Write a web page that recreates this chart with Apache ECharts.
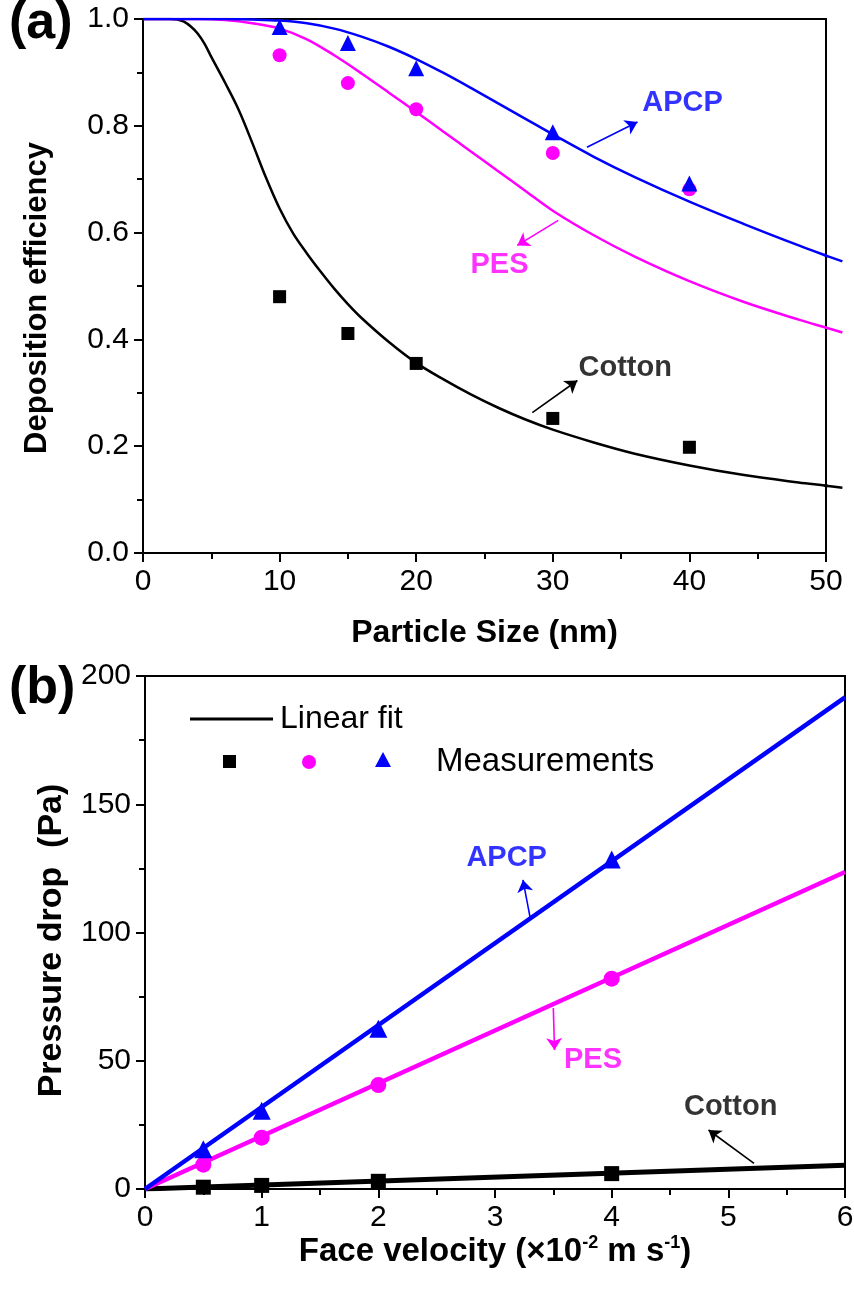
<!DOCTYPE html>
<html><head><meta charset="utf-8">
<script src="https://cdn.jsdelivr.net/npm/echarts@6/dist/echarts.min.js"></script>
<style>html,body{margin:0;padding:0;background:#fff}#c{width:854px;height:1291px}</style>
</head><body><div id="c"></div>
<script>
// ---------- Panel (a): deposition efficiency vs particle size ----------
const sizeNm = [10, 15, 20, 30, 40];
const cottonEff = [0.48, 0.411, 0.355, 0.252, 0.198];
const pesEff = [0.932, 0.880, 0.831, 0.749, 0.681];
const apcpEff = [0.985, 0.955, 0.908, 0.788, 0.692];

const cottonCurveX = [0, 1, 2, 2.5, 3, 3.5, 4, 4.5, 5, 6, 7, 8, 9, 10, 11, 12, 13, 14, 15, 16, 18, 20, 22, 24, 26, 28, 30, 33, 36, 40, 44, 48, 50, 51.2];
const cottonCurveY = [1, 1, 1, 0.999, 0.995, 0.986, 0.973, 0.954, 0.929, 0.881, 0.830, 0.768, 0.703, 0.645, 0.598, 0.561, 0.527, 0.495, 0.466, 0.440, 0.395, 0.356, 0.325, 0.297, 0.272, 0.250, 0.231, 0.207, 0.186, 0.164, 0.146, 0.132, 0.126, 0.122];
const pesCurveX = [0, 4, 6, 8, 10, 12, 14, 16, 18, 20, 22, 24, 26, 28, 30, 33, 36, 40, 44, 48, 50, 51.2];
const pesCurveY = [1, 1, 0.998, 0.992, 0.982, 0.962, 0.932, 0.898, 0.862, 0.826, 0.789, 0.752, 0.715, 0.678, 0.641, 0.595, 0.555, 0.509, 0.470, 0.437, 0.422, 0.413];
const apcpCurveX = [0, 6, 8, 10, 12, 14, 16, 18, 20, 22, 24, 26, 28, 30, 33, 36, 40, 44, 48, 50, 51.2];
const apcpCurveY = [1, 1, 0.999, 0.997, 0.992, 0.982, 0.967, 0.948, 0.925, 0.899, 0.871, 0.842, 0.813, 0.784, 0.742, 0.704, 0.658, 0.616, 0.576, 0.557, 0.546];

// ---------- Panel (b): pressure drop vs face velocity ----------
const velocity = [0.5, 1, 2, 4];
const cottonDrop = [0.7, 1.4, 3.0, 6.0];
const pesDrop = [9.5, 20, 40.5, 82];
const apcpDrop = [15.5, 30.5, 62.5, 128.5];
const fitVelocity = [0, 6];
const cottonFit = [0, 9.3];
const pesFit = [0, 123.6];
const apcpFit = [0, 191.7];

// annotation anchors (data coordinates)
const annotA = [
  {text: 'APCP', color: '#0000FF', at: [39.5, 0.843], from: [32.5, 0.76], to: [36.2, 0.807]},
  {text: 'PES', color: '#FF00FF', at: [26.1, 0.539], from: [30.4, 0.623], to: [27.4, 0.576]},
  {text: 'Cotton', color: '#000000', at: [35.3, 0.346], from: [28.5, 0.263], to: [31.8, 0.323]}
];
const annotB = [
  {text: 'APCP', color: '#0000FF', at: [3.10, 129], from: [3.30, 106], to: [3.24, 120.5]},
  {text: 'PES', color: '#FF00FF', at: [3.84, 50.3], from: [3.50, 70.6], to: [3.51, 54.2]},
  {text: 'Cotton', color: '#000000', at: [5.02, 32], from: [5.22, 10], to: [4.83, 23]}
];

const FONT = '"Liberation Sans", Arial, sans-serif';
const BLUE = '#0000FF', MAG = '#FF00FF', BLK = '#000000';
const zip = (xs, ys) => xs.map((x, i) => [x, ys[i]]);

function axisBase(extra) {
  return Object.assign({
    type: 'value',
    nameLocation: 'middle',
    axisLine: {show: true, onZero: false, lineStyle: {color: '#000', width: 2}},
    axisTick: {show: true, inside: false, length: 9, lineStyle: {color: '#000', width: 2}},
    minorTick: {show: true, splitNumber: 2, length: 6, lineStyle: {color: '#000', width: 2}},
    splitLine: {show: false},
    minorSplitLine: {show: false},
    axisLabel: {color: '#000', fontSize: 30, fontFamily: FONT, margin: 14, showMinLabel: true, showMaxLabel: true, hideOverlap: false},
    nameTextStyle: {color: '#000', fontSize: 32, fontFamily: FONT, fontWeight: 'bold'}
  }, extra);
}
function hiddenAxis(extra) {
  return Object.assign({type: 'value', show: false, splitLine: {show: false}}, extra);
}

function curve(name, x, y, color, xi, width) {
  return {type: 'line', name, xAxisIndex: xi, yAxisIndex: xi, data: zip(x, y),
    smooth: width < 3 ? 0.35 : false,
    symbol: 'none', clip: true, lineStyle: {color, width}, itemStyle: {color}, z: 3, animation: false};
}
function points(name, x, y, color, symbol, size, xi) {
  return {type: 'scatter', name, xAxisIndex: xi, yAxisIndex: xi, data: zip(x, y), symbol, symbolSize: size,
    itemStyle: {color, opacity: 1}, z: 5, animation: false};
}
function annotSeries(list, xi) {
  const out = [];
  list.forEach(a => {
    out.push({type: 'scatter', xAxisIndex: xi, yAxisIndex: xi, data: [a.at], symbolSize: 0.1,
      itemStyle: {color: 'rgba(0,0,0,0)'}, silent: true, animation: false, z: 6,
      label: {show: true, position: 'inside', formatter: a.text, color: a.color, fontSize: 29, fontWeight: 'bold', fontFamily: FONT}});
    out.push({type: 'line', xAxisIndex: xi, yAxisIndex: xi, data: [], silent: true, animation: false, z: 6,
      markLine: {silent: true, animation: false, symbol: ['none', 'arrow'], symbolSize: 12,
        lineStyle: {color: a.color, width: 1.6, type: 'solid'}, label: {show: false},
        data: [[{coord: a.from}, {coord: a.to}]]}});
  });
  return out;
}

const chart = echarts.init(document.getElementById('c'), null, {renderer: 'canvas'});
chart.setOption({
  backgroundColor: '#fff',
  animation: false,
  grid: [
    {left: 143, top: 19, width: 683, height: 534, show: true, borderColor: '#000', borderWidth: 2, backgroundColor: 'transparent', outerBoundsMode: 'none', containLabel: false},
    {left: 145, top: 676, width: 700, height: 513, show: true, borderColor: '#000', borderWidth: 2, backgroundColor: 'transparent', outerBoundsMode: 'none', containLabel: false},
    // overhang of the fitted curves past x = 50 in panel (a)
    {left: 826, top: 19, width: 19, height: 534, show: false, outerBoundsMode: 'none', containLabel: false}
  ],
  xAxis: [
    axisBase({gridIndex: 0, min: 0, max: 50, interval: 10, name: 'Particle Size (nm)', nameGap: 64}),
    axisBase({gridIndex: 1, min: 0, max: 6, interval: 1, nameGap: 27,
      name: '{t|Face velocity (×10}{s|-2}{t| m s}{s|-1}{t|)}',
      nameTextStyle: {color: '#000', fontFamily: FONT, rich: {
        t: {fontSize: 33, fontWeight: 'bold', fontFamily: FONT, color: '#000', lineHeight: 36},
        s: {fontSize: 18, fontWeight: 'bold', fontFamily: FONT, color: '#000', verticalAlign: 'top', lineHeight: 36}
      }}}),
    hiddenAxis({gridIndex: 2, min: 50, max: 50 + 19 * 50 / 683})
  ],
  yAxis: [
    axisBase({gridIndex: 0, min: 0, max: 1, interval: 0.2, name: 'Deposition efficiency', nameGap: 90,
      nameTextStyle: {color: '#000', fontSize: 31, fontFamily: FONT, fontWeight: 'bold', padding: [0, 24, 0, 0]},
      axisLabel: {color: '#000', fontSize: 30, fontFamily: FONT, margin: 14, showMinLabel: true, showMaxLabel: true, formatter: v => v.toFixed(1)}}),
    axisBase({gridIndex: 1, min: 0, max: 200, interval: 50, name: 'Pressure drop  (Pa)', nameGap: 76,
      nameTextStyle: {color: '#000', fontSize: 34, fontFamily: FONT, fontWeight: 'bold', padding: [0, 16, 0, 0]}}),
    hiddenAxis({gridIndex: 2, min: 0, max: 1})
  ],
  series: [
    curve('Cotton curve', cottonCurveX, cottonCurveY, BLK, 0, 2.5),
    curve('PES curve', pesCurveX, pesCurveY, MAG, 0, 2.5),
    curve('APCP curve', apcpCurveX, apcpCurveY, BLUE, 0, 2.5),
    curve('Cotton tail', cottonCurveX, cottonCurveY, BLK, 2, 2.5),
    curve('PES tail', pesCurveX, pesCurveY, MAG, 2, 2.5),
    curve('APCP tail', apcpCurveX, apcpCurveY, BLUE, 2, 2.5),
    points('Cotton', sizeNm, cottonEff, BLK, 'rect', 13, 0),
    points('PES', sizeNm, pesEff, MAG, 'circle', 14, 0),
    points('APCP', sizeNm, apcpEff, BLUE, 'triangle', 16, 0),
    curve('Linear fit', fitVelocity, cottonFit, BLK, 1, 5),
    curve('PES fit', fitVelocity, pesFit, MAG, 1, 4.5),
    curve('APCP fit', fitVelocity, apcpFit, BLUE, 1, 4.5),
    points('Cotton drop', velocity, cottonDrop, BLK, 'rect', 15, 1),
    points('PES drop', velocity, pesDrop, MAG, 'circle', 16, 1),
    points('APCP drop', velocity, apcpDrop, BLUE, 'triangle', 18, 1),
    ...annotSeries(annotA, 0),
    ...annotSeries(annotB, 1)
  ],
  graphic: [
    {type: 'text', left: 9, top: -2, style: {text: '(a)', font: 'bold 52px ' + FONT, fill: '#000'}},
    {type: 'text', left: 9, top: 663, style: {text: '(b)', font: 'bold 52px ' + FONT, fill: '#000'}},
    {type: 'line', shape: {x1: 190, y1: 719, x2: 273, y2: 719}, style: {stroke: '#000', lineWidth: 3}},
    {type: 'text', x: 280, y: 719, style: {text: 'Linear fit', font: '32px ' + FONT, fill: '#000', verticalAlign: 'middle'}},
    {type: 'rect', shape: {x: 223, y: 755, width: 13, height: 13}, style: {fill: '#000'}},
    {type: 'circle', shape: {cx: 309, cy: 762, r: 7}, style: {fill: MAG}},
    {type: 'polygon', shape: {points: [[383, 752], [391, 767], [375, 767]]}, style: {fill: BLUE}},
    {type: 'text', x: 436, y: 762, style: {text: 'Measurements', font: '33px ' + FONT, fill: '#000', verticalAlign: 'middle'}}
  ]
});
</script>
</body></html>
